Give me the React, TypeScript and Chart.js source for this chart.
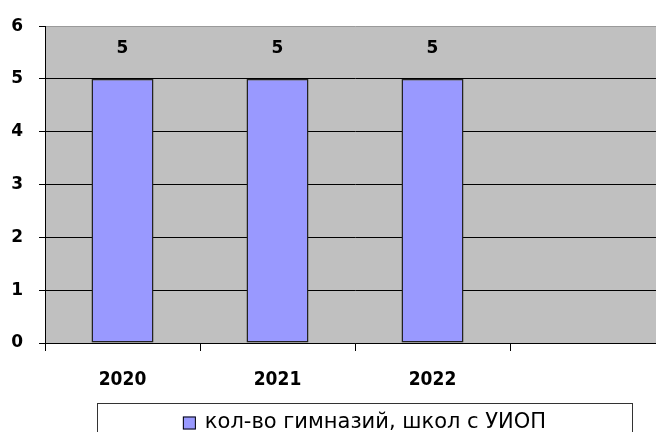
import React, { useEffect, useRef } from "react";
import { Chart, registerables } from "chart.js";

Chart.register(...registerables);

const categories = ["2020", "2021", "2022", ""];
const seriesName = "кол-во гимназий, школ с УИОП";
const seriesValues: (number | null)[] = [5, 5, 5, null];
const yTicks = [0, 1, 2, 3, 4, 5, 6];

const BAR_FILL = "#9999FF";
const PLOT_BG = "#C0C0C0";

const bgPlugin = {
  id: "plotBg",
  beforeDraw(chart: any) {
    const { ctx, chartArea } = chart;
    ctx.save();
    ctx.fillStyle = PLOT_BG;
    ctx.fillRect(chartArea.left, chartArea.top, chartArea.right - chartArea.left, chartArea.bottom - chartArea.top);
    ctx.restore();
  },
};

const labelPlugin = {
  id: "valueLabels",
  afterDatasetsDraw(chart: any) {
    const { ctx } = chart;
    const meta = chart.getDatasetMeta(0);
    const data = chart.data.datasets[0].data;
    ctx.save();
    ctx.fillStyle = "#000";
    ctx.font = "bold 17px 'DejaVu Sans', sans-serif";
    ctx.textAlign = "center";
    ctx.textBaseline = "middle";
    meta.data.forEach((el: any, i: number) => {
      const v = data[i];
      if (v === null || v === undefined) return;
      ctx.fillText(String(v), el.x, el.y - 30);
    });
    ctx.restore();
  },
};

const legendPlugin = {
  id: "boxLegend",
  afterDraw(chart: any) {
    const { ctx, chartArea } = chart;
    const boxLeft = chartArea.left + 52;
    const boxWidth = 535;
    const boxTop = chartArea.bottom + 60;
    const boxHeight = 45;
    ctx.save();
    ctx.fillStyle = "#fff";
    ctx.fillRect(boxLeft, boxTop, boxWidth, boxHeight);
    ctx.strokeStyle = "#333";
    ctx.lineWidth = 1;
    ctx.strokeRect(boxLeft + 0.5, boxTop + 0.5, boxWidth, boxHeight);
    const text = chart.data.datasets[0].label;
    ctx.font = "21px 'DejaVu Sans', sans-serif";
    const tw = ctx.measureText(text).width;
    const sw = 13;
    const gap = 9;
    const total = sw + gap + tw;
    const startX = boxLeft + (boxWidth - total) / 2;
    const cy = boxTop + 20;
    ctx.fillStyle = BAR_FILL;
    ctx.fillRect(startX, cy - sw / 2, sw, sw);
    ctx.strokeStyle = "#000";
    ctx.strokeRect(startX + 0.5, cy - sw / 2 + 0.5, sw - 1, sw - 1);
    ctx.fillStyle = "#000";
    ctx.textAlign = "left";
    ctx.textBaseline = "middle";
    ctx.fillText(text, startX + sw + gap, cy);
    ctx.restore();
  },
};

export default function App() {
  const ref = useRef<HTMLCanvasElement | null>(null);
  useEffect(() => {
    if (!ref.current) return;
    const chart = new Chart(ref.current, {
      type: "bar",
      data: {
        labels: categories,
        datasets: [
          {
            label: seriesName,
            data: seriesValues,
            backgroundColor: BAR_FILL,
            borderColor: "#222",
            borderWidth: 1.5,
            borderSkipped: false,
            barPercentage: 0.4,
            categoryPercentage: 1,
          },
        ],
      },
      options: {
        animation: false,
        responsive: false,
        devicePixelRatio: 1,
        layout: { padding: { top: 26, right: 15, left: 0, bottom: 0 } },
        plugins: { legend: { display: false }, tooltip: { enabled: false } },
        scales: {
          x: {
            afterFit: (s: any) => {
              s.height = 117;
            },
            grid: {
              offset: true,
              drawOnChartArea: false,
              drawTicks: true,
              tickLength: 8,
              tickColor: "#000",
            },
            border: { display: true, color: "#000", width: 1 },
            ticks: {
              color: "#000",
              padding: 18,
              font: { family: "'DejaVu Sans Condensed', 'Liberation Sans Narrow', 'DejaVu Sans'", weight: "bold", size: 19 },
            },
          },
          y: {
            min: yTicks[0],
            max: yTicks[yTicks.length - 1],
            afterFit: (s: any) => {
              s.width = 45;
            },
            afterBuildTicks: (s: any) => {
              s.ticks = yTicks.map((v) => ({ value: v }));
            },
            grid: {
              color: (c: any) => (c.tick && c.tick.value === yTicks[yTicks.length - 1] ? "#9a9a9a" : "#000"),
              tickColor: "#000",
              tickLength: 6,
              lineWidth: 1,
            },
            border: { display: true, color: "#000", width: 1 },
            ticks: {
              color: "#000",
              padding: 16,
              font: { family: "'DejaVu Sans', sans-serif", weight: "bold", size: 17 },
            },
          },
        },
      },
      plugins: [bgPlugin, labelPlugin, legendPlugin],
    });
    return () => chart.destroy();
  }, []);
  return (
    <div style={{ position: "absolute", left: 0, top: 0, width: 656, height: 432, overflow: "hidden", background: "#fff" }}>
      <canvas ref={ref} width={680} height={460} style={{ display: "block" }} />
    </div>
  );
}
